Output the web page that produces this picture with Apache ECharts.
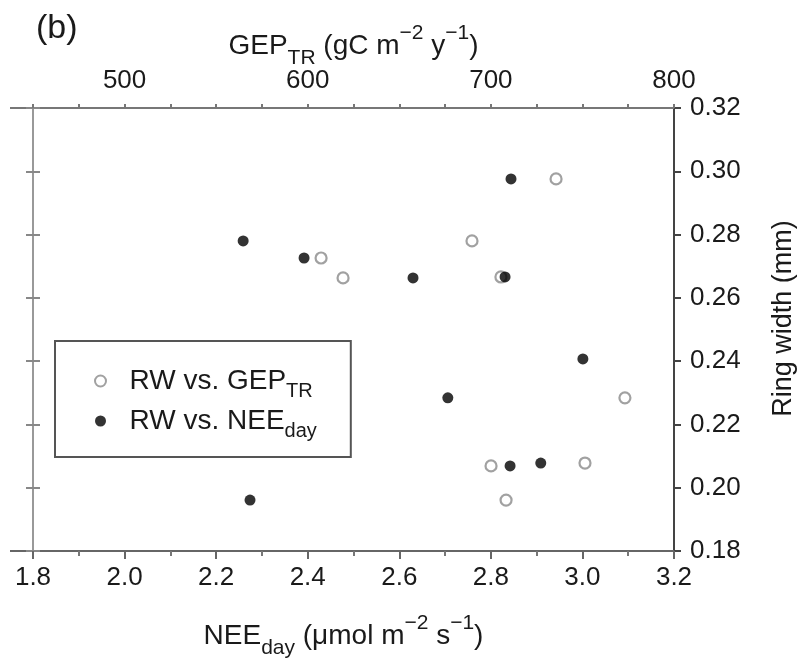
<!DOCTYPE html>
<html><head><meta charset="utf-8">
<script src="https://cdn.jsdelivr.net/npm/echarts@6/dist/echarts.min.js"></script>
<style>html,body{margin:0;padding:0;background:#fff}#c{width:801px;height:661px}</style>
</head><body><div id="c"></div>
<script>
// RW vs. NEE_day (filled circles, bottom axis)
const neeValues = [2.844, 2.259, 2.392, 2.630, 2.831, 3.001, 2.706, 2.842, 2.909, 2.274];
const rwForNee  = [0.2976, 0.2780, 0.2726, 0.2663, 0.2666, 0.2407, 0.2284, 0.2069, 0.2078, 0.1961];
// RW vs. GEP_TR (open circles, top axis)
const gepValues = [735.6, 689.7, 607.3, 619.3, 705.5, 773.2, 700.1, 751.4, 708.3];
const rwForGep  = [0.2976, 0.2780, 0.2726, 0.2663, 0.2666, 0.2284, 0.2069, 0.2078, 0.1961];
// tick labels
const neeTickLabels = ['1.8','2.0','2.2','2.4','2.6','2.8','3.0','3.2'];
const gepTickLabels = ['500','600','700','800'];
const rwTickLabels  = ['0.18','0.20','0.22','0.24','0.26','0.28','0.30','0.32'];

const FONT = "'Liberation Sans', Arial, Helvetica, sans-serif";
const TXT = '#1a1a1a';

const nameRich = {
  m:   {fontSize: 28, fontFamily: FONT, color: TXT, lineHeight: 46},
  sub: {fontSize: 21, fontFamily: FONT, color: TXT, verticalAlign: 'bottom'},
  sup: {fontSize: 21, fontFamily: FONT, color: TXT, verticalAlign: 'top'}
};

const chart = echarts.init(document.getElementById('c'), null, {renderer: 'canvas'});
const option = {
  backgroundColor: '#fff',
  animation: false,
  title: {text: '(b)', left: 31, top: 7, textStyle: {fontSize: 34, fontWeight: 'normal', color: TXT, fontFamily: FONT}},
  grid: {left: 33, right: 127, top: 108, bottom: 110, containLabel: false, outerBoundsMode: 'none'},
  legend: {
    orient: 'vertical', left: 55, top: 341,
    data: ['gep', 'nee'],
    icon: 'circle', itemWidth: 48, itemHeight: 11, itemGap: 0,
    padding: [20, 34, 16, 39],
    borderColor: '#555', borderWidth: 2,
    formatter: n => n === 'gep' ? 'RW vs. GEP{sub|TR}' : 'RW vs. NEE{sub|day}',
    textStyle: {fontSize: 28, fontFamily: FONT, color: TXT, lineHeight: 40,
      rich: {sub: {fontSize: 20, fontFamily: FONT, color: TXT, verticalAlign: 'bottom'}}}
  },
  xAxis: [
    {
      type: 'value', position: 'bottom', min: 1.8, max: 3.2, interval: 0.2,
      axisLine: {show: true, onZero: false, lineStyle: {color: '#666', width: 2}},
      axisTick: {show: true, length: 8, lineStyle: {color: '#666', width: 2}},
      minorTick: {show: true, splitNumber: 2, length: 5, lineStyle: {color: '#777', width: 2}},
      splitLine: {show: false},
      axisLabel: {margin: 14, fontSize: 26, fontFamily: FONT, color: TXT,
        formatter: v => { const s = v.toFixed(1); return neeTickLabels.includes(s) ? s : ''; }},
      name: '{m|NEE}{sub|day}{m| (μmol m}{sup|−2}{m| s}{sup|−1}{m|)}',
      nameLocation: 'middle', nameGap: 62, nameMoveOverlap: false,
      nameTextStyle: {rich: nameRich, padding: [0, 20, 0, 0]}
    },
    {
      type: 'value', position: 'top', min: 450, max: 800, interval: 25,
      axisLine: {show: true, onZero: false, lineStyle: {color: '#777', width: 2}},
      axisTick: {show: true, length: 4, lineStyle: {color: '#777', width: 2}},
      splitLine: {show: false},
      axisLabel: {margin: 14, fontSize: 26, fontFamily: FONT, color: TXT,
        formatter: v => { const s = String(Math.round(v)); return gepTickLabels.includes(s) ? s : ''; }},
      name: '{m|GEP}{sub|TR}{m| (gC m}{sup|−2}{m| y}{sup|−1}{m|)}',
      nameLocation: 'middle', nameGap: 39, nameMoveOverlap: false,
      nameTextStyle: {rich: nameRich}
    }
  ],
  yAxis: [
    {
      type: 'value', position: 'right', min: 0.18, max: 0.32, interval: 0.02,
      axisLine: {show: true, onZero: false, lineStyle: {color: '#444', width: 2}},
      axisTick: {show: true, length: 7, lineStyle: {color: '#444', width: 2}},
      splitLine: {show: false},
      axisLabel: {margin: 16, fontSize: 26, fontFamily: FONT, color: TXT,
        formatter: v => { const s = v.toFixed(2); return rwTickLabels.includes(s) ? s : ''; }},
      name: 'Ring width (mm)', nameLocation: 'middle', nameRotate: 90, nameGap: 96,
      nameTextStyle: {fontSize: 27, fontFamily: FONT, color: TXT, padding: [0, 0, 0, 22]}
    },
    {
      type: 'value', position: 'left', min: 0.18, max: 0.32, interval: 0.02,
      axisLine: {show: true, onZero: false, lineStyle: {color: '#999', width: 2}},
      axisTick: {show: true, length: 7, lineStyle: {color: '#888', width: 2}},
      axisLabel: {show: false}, splitLine: {show: false}
    },
    {
      type: 'value', position: 'left', min: 0.18, max: 0.32, interval: 0.02,
      axisLine: {show: false},
      axisTick: {show: true, inside: true, length: 7, lineStyle: {color: '#888', width: 2}},
      axisLabel: {show: false}, splitLine: {show: false}
    }
  ],
  series: [
    {
      name: 'gep', type: 'scatter', xAxisIndex: 1, yAxisIndex: 0,
      data: gepValues.map((v, i) => [v, rwForGep[i]]),
      symbol: 'circle', symbolSize: 11,
      itemStyle: {color: '#fff', borderColor: '#8a8a8a', borderWidth: 2.2}
    },
    {
      name: 'nee', type: 'scatter', xAxisIndex: 0, yAxisIndex: 0,
      data: neeValues.map((v, i) => [v, rwForNee[i]]),
      symbol: 'circle', symbolSize: 11,
      itemStyle: {color: '#000'}
    }
  ]
};
chart.setOption(option);

// extend top and bottom axis lines a little to the left, as in the original
const pTop = chart.convertToPixel({xAxisIndex: 0, yAxisIndex: 0}, [1.8, 0.32]);
const pBot = chart.convertToPixel({xAxisIndex: 0, yAxisIndex: 0}, [1.8, 0.18]);
chart.setOption({
  graphic: [
    {type: 'line', shape: {x1: pTop[0] - 23, y1: pTop[1], x2: pTop[0], y2: pTop[1]}, style: {stroke: '#777', lineWidth: 2}, silent: true},
    {type: 'line', shape: {x1: pBot[0] - 23, y1: pBot[1], x2: pBot[0], y2: pBot[1]}, style: {stroke: '#666', lineWidth: 2}, silent: true}
  ]
});
</script>
</body></html>
